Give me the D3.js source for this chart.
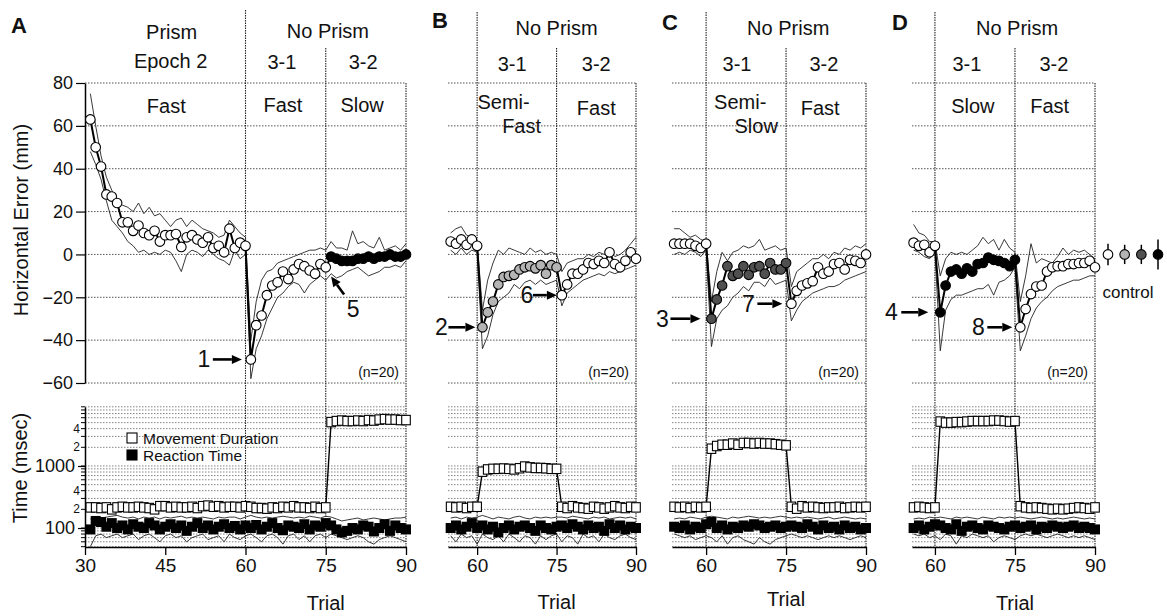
<!DOCTYPE html>
<html><head><meta charset="utf-8">
<script src="https://cdn.jsdelivr.net/npm/d3@7"></script>
<style>
body{margin:0;background:#fff}
svg{display:block}
text{font-family:"Liberation Sans",Arial,Helvetica,sans-serif;fill:#111}
</style>
</head><body>
<svg id="c" width="1167" height="616"></svg>
<script>
// ---------------- data ----------------
const trialTicksA = [30, 45, 60, 75, 90];
const trialTicksBCD = [60, 75, 90];
const errTicks = [80, 60, 40, 20, 0, -20, -40, -60];
const timeMajorTicks = [100, 1000];
const timeMinorLabels = [200, 400, 2000, 4000];

// Panel A (trials 31-90)
const aStart = 31;
const aErrMean = [63,50,41,28,27,24,15,15,11,13.5,10,9,11,6,9, 9,9.5,3.5,8,9,7,5.5,8,3,4,1,12,3,5.5,4,
  -49,-33,-28.5,-19,-14.5,-13,-8,-11.5,-7,-4.5,-5.5,-7.5,-9,-4.5,-6,
  -1,-2,-3,-3,-3,-2,-2,-1,-2,-1,-1,0,-1,-1,0];
const aErrUpper = [75,60,46,36,30,25,23,22,20,24,19,22,18,19,16, 13,16,17,13,16,14,12,11,10,8,9,16,13,10,8,
  -40,-22,-12,-8,-7,-4,-3,-2,-1,0,1,2,2,3,2,
  6,3,3,2,11,5,6,4,3,8,2,3,4,2,5];
const aErrLower = [48,42,35,25,16,13,10,6,4,1,2,0,1,0,2, 1,-3,-8,0,2,1,-1,2,0,-2,-3,-5,2,-2,0,
  -58,-44,-38,-30,-25,-20,-18,-15,-13,-14,-18,-14,-12,-10,-12,
  -9,-11,-10,-8,-7,-6,-8,-10,-9,-8,-6,-6,-5,-6,-3];
const aMD = [215,215,210,215,200,215,220,215,215,220,215,210,200,225,225, 215,220,215,215,220,210,225,230,220,225,215,220,220,215,225,
  220,210,210,205,215,210,220,215,225,215,215,210,220,210,215,
  5100,5300,5400,5300,5300,5400,5300,5500,5400,5600,5700,5600,5600,5500,5500];
const aRT = [95,130,125,105,120,100,110,95,115,105,100,120,110,95,105, 115,100,110,90,105,120,100,110,95,105,115,100,108,95,110,
  100,112,95,105,120,100,92,110,105,100,115,95,110,105,120,
  110,95,85,90,100,95,110,105,88,100,115,90,110,100,95];
const aRTUpper = [140,150,145,150,155,160,150,145,150,140,150,145,150,140,150, 145,150,155,145,150,145,150,145,140,150,145,150,150,140,150,
  160,150,145,150,145,150,155,150,145,150,145,155,150,145,155,
  150,140,130,135,140,145,135,140,145,140,135,140,145,145,150];
const aRTLower = [50,75,80,70,75,80,70,75,80,65,75,80,70,60,75, 80,70,75,60,70,75,80,65,70,75,60,80,70,65,75,
  80,70,60,75,80,70,55,75,80,65,75,60,75,80,70,
  80,75,70,65,70,75,70,60,55,65,70,75,70,65,60];

// Panel B (trials 55-90)
const bStart = 55;
const bErrMean = [6,5,7,4.5,7,4, -34,-27,-22,-14,-10.5,-10,-9.5,-7,-6,-5.5,-6.5,-5,-9,-5,-6,
  -19,-14,-9,-9,-7,-4,-4.5,-3,-4,1,-4.5,-6,-3,1,-2];
const bErrUpper = [10,12,13,9,8,6, -26,-12,-4,2,0,3,2,1,0,3,1,2,0,1,0,
  -8,-4,-3,-2,-2,0,-1,1,0,2,-1,0,2,5,8];
const bErrLower = [2,0,3,0,2,1, -44,-38,-28,-22,-20,-18,-14,-16,-13,-12,-14,-12,-14,-13,-12,
  -24,-18,-16,-14,-12,-11,-10,-9,-10,-8,-9,-8,-7,-6,-5];
const bMD = [220,215,220,210,220,220, 810,880,900,900,910,900,880,920,980,950,930,930,920,900,900,
  220,210,225,215,210,205,220,215,205,215,225,215,210,220,215];
const bRT = [100,110,95,105,120,100, 110,95,105,85,100,110,95,105,110,100,90,110,100,95,105,
  110,100,115,105,95,110,100,105,90,115,100,110,95,105,100];
const bRTUpper = [145,150,140,150,145,150, 160,150,140,150,145,140,150,155,145,140,150,145,150,145,150,
  150,145,155,150,145,140,150,145,150,140,145,150,145,150,140];
const bRTLower = [75,60,80,70,75,55, 80,70,65,75,60,80,70,60,75,70,55,75,65,75,80,
  60,75,70,55,80,70,75,60,80,70,65,75,80,70,65];

// Panel C (trials 54-90)
const cStart = 54;
const cErrMean = [5,5,5,5,4,3,5, -30,-21,-14.5,-5.5,-10,-9,-5.5,-9.5,-6,-5.5,-9,-4,-7,-7,-4,
  -23,-17,-14.5,-13.5,-12.5,-6,-9,-8,-4.5,-4,-7,-2.5,-3,-4,0];
const cErrUpper = [12,12,10,8,9,7,6, -22,-8,1,-3,1,2,4,3,4,7,2,3,4,2,3,
  -15,-8,-6,-4,-2,-2,0,-2,1,0,3,2,4,3,5];
const cErrLower = [0,1,0,2,1,-1,2, -43,-30,-26,-24,-20,-18,-15,-17,-13,-13,-15,-11,-14,-13,-12,
  -31,-26,-22,-20,-18,-17,-16,-15,-15,-14,-12,-11,-10,-9,-8];
const cMD = [220,215,220,210,220,215,220, 1900,2100,2200,2200,2300,2200,2350,2350,2300,2350,2300,2300,2250,2200,2150,
  220,205,225,215,220,215,210,215,215,220,210,215,220,215,220];
const cRT = [105,100,110,95,105,100,115, 125,100,110,95,105,100,110,105,115,110,100,105,110,100,105,
  110,105,100,115,105,95,110,100,105,95,110,100,105,95,100];
const cRTUpper = [140,145,140,150,145,140,150, 155,150,145,140,150,145,150,155,150,145,150,145,150,155,150,
  145,150,145,150,145,140,145,150,140,145,150,145,140,145,140];
const cRTLower = [80,75,70,75,65,70,75, 70,60,75,55,70,75,65,60,55,70,60,55,65,70,75,
  80,75,70,75,70,65,70,75,70,75,70,65,70,75,70];

// Panel D (trials 56-90)
const dStart = 56;
const dErrMean = [5.5,4,4.5,1,4, -27,-14.5,-8,-7,-9,-6.5,-8,-4.5,-4,-1.5,-2.5,-3,-4,-5.5,-2.5,
  -34,-25.5,-18.5,-15,-14.5,-8,-6,-5.5,-5.5,-4.5,-4.5,-4,-4,-3,-6];
const dErrUpper = [14,10,9,6,6, -10,-2,1,0,1,0,2,4,8,5,7,2,7,3,1,
  -22,-10,5,-4,-2,-3,-4,-1,3,0,2,1,2,0,-2];
const dErrLower = [2,1,-1,-2,1, -45,-26,-21,-19,-19,-18,-17,-16,-16,-14,-19,-13,-12,-10,-6,
  -45,-38,-30,-25,-22,-20,-17,-15,-14,-13,-12,-12,-11,-10,-10];
const dMD = [215,220,215,210,215, 5200,5000,5000,5100,5100,5200,5300,5300,5300,5300,5400,5400,5300,5200,5300,
  225,215,210,215,210,205,200,205,200,205,210,215,210,205,215];
const dRT = [100,110,95,105,115, 110,100,95,115,90,105,110,100,95,110,105,100,95,105,110,
  100,105,110,95,105,100,110,105,100,105,110,100,105,100,95];
const dRTUpper = [140,145,140,150,145, 150,145,140,150,145,150,145,140,150,145,140,150,145,150,145,
  150,145,140,145,150,145,140,145,140,145,150,145,140,145,140];
const dRTLower = [80,75,80,70,75, 65,80,75,55,75,70,80,75,70,75,60,70,75,70,65,
  75,80,75,80,75,70,75,80,75,70,75,70,75,70,65];

// control points (right of panel D)
const controlMean = [0, 0, 0, 0];
const controlErr = [5, 4.5, 4.5, 7];
const controlFill = ["#ffffff", "#b4b4b4", "#505050", "#000000"];

// ---------------- layout ----------------
const svg = d3.select("#c");
const yErr = d3.scaleLinear().domain([-60, 80]).range([383, 83]);
const yTime = d3.scaleLog().domain([50, 9000]).range([546.7, 406.8]);
const AXIS_Y = 547;

const panels = [
  {letter:"A", lx:11, ly:33, domain:[30,90], range:[85,406], ticks:trialTicksA, start:aStart,
   mean:aErrMean, upper:aErrUpper, lower:aErrLower, md:aMD, rt:aRT, rtUp:aRTUpper, rtLo:aRTLower,
   midFill:"#ffffff", lateFill:"#000000", top60:10, trialY:610, leftAxis:true,
   headers:[{t:46.2,y:39,s:"Prism"},{t:46,y:68,s:"Epoch 2"},{t:45.2,y:113,s:"Fast"},
            {t:75.4,y:38,s:"No Prism"},{t:66.8,y:69,s:"3-1"},{t:82,y:69,s:"3-2"},
            {t:67,y:112,s:"Fast"},{t:81.8,y:112,s:"Slow"}],
   notes:[{trial:61,label:"1",tx:-47,tail:-38,tip:-9},{trial:76,label:"5",diag:true}]},
  {letter:"B", lx:432, ly:28, domain:[54.5,90], range:[448,636], ticks:trialTicksBCD, start:bStart,
   mean:bErrMean, upper:bErrUpper, lower:bErrLower, md:bMD, rt:bRT, rtUp:bRTUpper, rtLo:bRTLower,
   midFill:"#b4b4b4", lateFill:"#ffffff", top60:12, trialY:609,
   headers:[{t:75,y:35,s:"No Prism"},{t:66.6,y:71,s:"3-1"},{t:82.5,y:71,s:"3-2"},
            {t:65,y:109,s:"Semi-"},{t:68.4,y:133,s:"Fast"},{t:82.5,y:115,s:"Fast"}],
   notes:[{trial:61,label:"2",tx:-41,tail:-34,tip:-7},{trial:76,label:"6",tx:-35,tail:-29,tip:-5}]},
  {letter:"C", lx:662, ly:30, domain:[53.6,90], range:[672,866], ticks:trialTicksBCD, start:cStart,
   mean:cErrMean, upper:cErrUpper, lower:cErrLower, md:cMD, rt:cRT, rtUp:cRTUpper, rtLo:cRTLower,
   midFill:"#505050", lateFill:"#ffffff", top60:12, trialY:606,
   headers:[{t:75.4,y:35,s:"No Prism"},{t:65.8,y:71,s:"3-1"},{t:82.1,y:71,s:"3-2"},
            {t:66.4,y:109,s:"Semi-"},{t:69.4,y:133,s:"Slow"},{t:81.4,y:115,s:"Fast"}],
   notes:[{trial:61,label:"3",tx:-49,tail:-41,tip:-11},{trial:76,label:"7",tx:-43,tail:-34,tip:-9}]},
  {letter:"D", lx:892, ly:30, domain:[55.7,90], range:[912,1095], ticks:trialTicksBCD, start:dStart,
   mean:dErrMean, upper:dErrUpper, lower:dErrLower, md:dMD, rt:dRT, rtUp:dRTUpper, rtLo:dRTLower,
   midFill:"#000000", lateFill:"#ffffff", top60:12, trialY:610,
   headers:[{t:75.4,y:35,s:"No Prism"},{t:66,y:71,s:"3-1"},{t:82.3,y:71,s:"3-2"},
            {t:67.1,y:113,s:"Slow"},{t:81.5,y:113,s:"Fast"}],
   notes:[{trial:61,label:"4",tx:-49,tail:-39,tip:-12},{trial:76,label:"8",tx:-42,tail:-33,tip:-8}]}
];

function arrow(g, tipX, tipY, tailX, tailY){
  const ang = Math.atan2(tipY - tailY, tipX - tailX);
  const hl = 10, hw = 4.5;
  const bx = tipX - hl*Math.cos(ang), by = tipY - hl*Math.sin(ang);
  g.append("line").attr("x1",tailX).attr("y1",tailY).attr("x2",bx).attr("y2",by)
    .attr("stroke","#000").attr("stroke-width",2.6);
  g.append("path").attr("fill","#000")
    .attr("d",`M${tipX},${tipY}L${bx+hw*Math.sin(ang)},${by-hw*Math.cos(ang)}L${bx-hw*Math.sin(ang)},${by+hw*Math.cos(ang)}Z`);
}

function drawPanel(p){
  const x = d3.scaleLinear().domain(p.domain).range(p.range);
  const g = svg.append("g");
  const x0 = p.range[0], x1 = p.range[1];

  // horizontal grid (error)
  g.selectAll(null).data(errTicks).join("line")
    .attr("x1",x0).attr("x2",x1).attr("y1",d=>yErr(d)).attr("y2",d=>yErr(d))
    .attr("stroke","#555").attr("stroke-width",1).attr("stroke-dasharray","1.5,1.5");
  // horizontal grid (time, log)
  g.selectAll(null).data(yTime.ticks()).join("line")
    .attr("x1",x0).attr("x2",x1).attr("y1",d=>yTime(d)).attr("y2",d=>yTime(d))
    .attr("stroke","#777").attr("stroke-width",0.9).attr("stroke-dasharray","1.5,1.5");
  // vertical phase lines
  const vlines = [{t:60,top:p.top60},{t:75,top:48},{t:90,top:yErr(80)}];
  g.selectAll(null).data(vlines).join("line")
    .attr("x1",d=>x(d.t)).attr("x2",d=>x(d.t)).attr("y1",d=>d.top).attr("y2",AXIS_Y)
    .attr("stroke","#222").attr("stroke-width",1.1).attr("stroke-dasharray","1.5,1");

  // x axis (bottom)
  const xa = g.append("g").attr("transform",`translate(0,${AXIS_Y})`)
    .call(d3.axisBottom(x).tickValues(p.ticks).tickSize(8).tickSizeOuter(0).tickPadding(4).tickFormat(d3.format("d")));
  xa.select(".domain").attr("stroke","#000").attr("stroke-width",1.3);
  xa.selectAll(".tick line").attr("stroke","#000").attr("stroke-width",1.3);
  xa.selectAll("text").attr("font-size",19).attr("fill","#111").attr("font-family","Liberation Sans, Arial, sans-serif");

  if(p.leftAxis){
    const ya = g.append("g").attr("transform",`translate(${x0},0)`)
      .call(d3.axisLeft(yErr).tickValues(errTicks).tickSize(9).tickSizeOuter(0).tickPadding(3));
    ya.select(".domain").attr("stroke","#000").attr("stroke-width",1.5);
    ya.selectAll(".tick line").attr("stroke","#000").attr("stroke-width",1.2);
    ya.selectAll("text").attr("font-size",18).attr("fill","#111").attr("font-family","Liberation Sans, Arial, sans-serif");

    const yb = g.append("g").attr("transform",`translate(${x0},0)`)
      .call(d3.axisLeft(yTime).tickValues(timeMajorTicks).tickSize(7).tickSizeOuter(0).tickPadding(3).tickFormat(d3.format("d")));
    yb.select(".domain").attr("stroke","#000").attr("stroke-width",1.5);
    yb.selectAll(".tick line").attr("stroke","#000").attr("stroke-width",1.2);
    yb.selectAll("text").attr("font-size",18).attr("fill","#111").attr("font-family","Liberation Sans, Arial, sans-serif");
    // minor ticks
    g.selectAll(null).data(yTime.ticks()).join("line")
      .attr("x1",x0-4).attr("x2",x0).attr("y1",d=>yTime(d)).attr("y2",d=>yTime(d))
      .attr("stroke","#000").attr("stroke-width",1);
    g.selectAll(null).data(timeMinorLabels).join("text")
      .attr("x",x0-5).attr("y",d=>yTime(d)+4).attr("text-anchor","end").attr("font-size",12)
      .text(d=>String(d).charAt(0));
  }

  // error bounds
  const ser = (arr)=>arr.map((v,i)=>({t:p.start+i, v}));
  const lineE = d3.line().x(d=>x(d.t)).y(d=>yErr(d.v));
  const lineT = d3.line().x(d=>x(d.t)).y(d=>yTime(d.v));
  [p.upper,p.lower].forEach(a=>{
    g.append("path").attr("d",lineE(ser(a))).attr("fill","none").attr("stroke","#222").attr("stroke-width",0.9);
  });
  const meanPts = ser(p.mean);
  g.append("path").attr("d",lineE(meanPts)).attr("fill","none").attr("stroke","#000").attr("stroke-width",2);
  const fillFor = t => t<=60 ? "#ffffff" : (t<=75 ? p.midFill : p.lateFill);
  g.selectAll(null).data(meanPts).join("circle")
    .attr("cx",d=>x(d.t)).attr("cy",d=>yErr(d.v)).attr("r",4.8)
    .attr("fill",d=>fillFor(d.t)).attr("stroke","#000").attr("stroke-width",1.1);

  // time: RT bounds
  [p.rtUp,p.rtLo].forEach(a=>{
    g.append("path").attr("d",lineT(ser(a))).attr("fill","none").attr("stroke","#222").attr("stroke-width",0.9);
  });
  const rtPts = ser(p.rt);
  g.append("path").attr("d",lineT(rtPts)).attr("fill","none").attr("stroke","#000").attr("stroke-width",1.5);
  g.selectAll(null).data(rtPts).join("rect")
    .attr("x",d=>x(d.t)-5).attr("y",d=>yTime(d.v)-5).attr("width",10).attr("height",10).attr("fill","#000");
  const mdPts = ser(p.md);
  g.append("path").attr("d",lineT(mdPts)).attr("fill","none").attr("stroke","#000").attr("stroke-width",1.4);
  g.selectAll(null).data(mdPts).join("rect")
    .attr("x",d=>x(d.t)-4.3).attr("y",d=>yTime(d.v)-4.7).attr("width",8.6).attr("height",9.4)
    .attr("fill","#fff").attr("stroke","#000").attr("stroke-width",1.1);

  // headers
  g.selectAll(null).data(p.headers).join("text")
    .attr("x",d=>x(d.t)).attr("y",d=>d.y).attr("text-anchor","middle").attr("font-size",20).text(d=>d.s);
  // panel letter
  g.append("text").attr("x",p.lx).attr("y",p.ly).attr("font-size",22).attr("font-weight","bold").text(p.letter);
  // trial label
  g.append("text").attr("x",x(75)).attr("y",p.trialY).attr("text-anchor","middle").attr("font-size",20).text("Trial");
  // n label
  g.append("text").attr("x",x(90)-7).attr("y",377).attr("text-anchor","end").attr("font-size",14).text("(n=20)");

  // annotations
  p.notes.forEach(n=>{
    const i = n.trial - p.start;
    const cx = x(n.trial), cy = yErr(p.mean[i]);
    if(n.diag){
      arrow(g, cx, cy+20, cx+13, cy+38);
      g.append("text").attr("x",cx+22).attr("y",cy+60).attr("text-anchor","middle").attr("font-size",23).text(n.label);
    } else {
      arrow(g, cx+n.tip, cy, cx+n.tail, cy);
      g.append("text").attr("x",cx+n.tx).attr("y",cy+8).attr("text-anchor","middle").attr("font-size",23).text(n.label);
    }
  });
}

panels.forEach(drawPanel);

// axis titles
svg.append("text").attr("transform","translate(28,220) rotate(-90)").attr("text-anchor","middle")
  .attr("font-size",20).text("Horizontal Error (mm)");
svg.append("text").attr("transform","translate(27,468) rotate(-90)").attr("text-anchor","middle")
  .attr("font-size",20).text("Time (msec)");

// legend (panel A, time plot)
const legendItems = [{label:"Movement Duration", fill:"#ffffff", y:438},{label:"Reaction Time", fill:"#000000", y:455}];
const lg = svg.append("g");
lg.selectAll(null).data(legendItems).join("rect")
  .attr("x",127).attr("y",d=>d.y-5).attr("width",10).attr("height",10)
  .attr("fill",d=>d.fill).attr("stroke","#000").attr("stroke-width",1.1);
lg.selectAll(null).data(legendItems).join("text")
  .attr("x",143).attr("y",d=>d.y+5.5).attr("font-size",15.5).text(d=>d.label);

// control points
const xc = d3.scalePoint().domain(d3.range(controlMean.length)).range([1108,1158]);
const cg = svg.append("g");
cg.selectAll(null).data(controlMean).join("line")
  .attr("x1",(d,i)=>xc(i)).attr("x2",(d,i)=>xc(i))
  .attr("y1",(d,i)=>yErr(d+controlErr[i])).attr("y2",(d,i)=>yErr(d-controlErr[i]))
  .attr("stroke","#000").attr("stroke-width",1.5);
cg.selectAll(null).data(controlMean).join("circle")
  .attr("cx",(d,i)=>xc(i)).attr("cy",d=>yErr(d)).attr("r",4.8)
  .attr("fill",(d,i)=>controlFill[i]).attr("stroke","#000").attr("stroke-width",1.1);
cg.append("text").attr("x",1128).attr("y",298).attr("text-anchor","middle").attr("font-size",17).text("control");
</script>
</body></html>
